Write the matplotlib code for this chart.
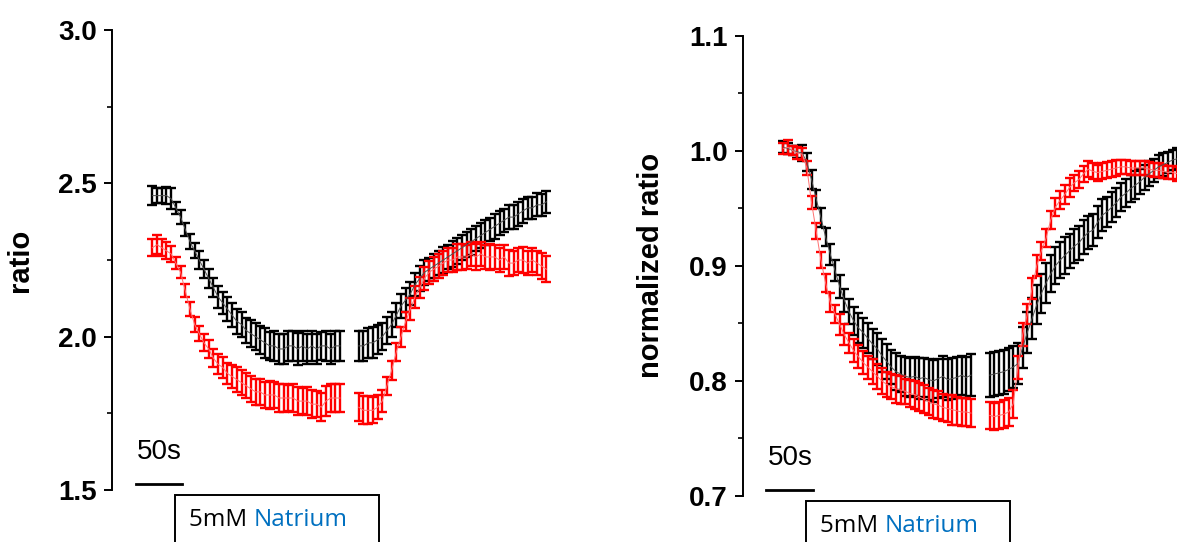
import numpy as np
import matplotlib
matplotlib.use("Agg")
import matplotlib.pyplot as plt
from matplotlib.patches import Rectangle
from matplotlib.ticker import MultipleLocator
import matplotlib.transforms as mtransforms

# time points (s), recording gap between the two segments
t_seg1 = np.arange(0, 205, 5)
t_seg2 = np.arange(220, 425, 5)

# ---- left panel: ratio ----
ratio_black_1 = [2.46, 2.46, 2.46, 2.46, 2.45, 2.42, 2.39, 2.35, 2.31, 2.28, 2.25, 2.22, 2.19, 2.16,
                 2.13, 2.11, 2.09, 2.07, 2.05, 2.04, 2.02, 2.01, 2.00, 1.99, 1.98, 1.97, 1.97, 1.96,
                 1.96, 1.97, 1.97, 1.96, 1.97, 1.96, 1.97, 1.96, 1.97, 1.97, 1.96, 1.97, 1.97]
ratio_black_1_err = [0.030, 0.025, 0.025, 0.028, 0.035, 0.020, 0.022, 0.022, 0.025, 0.025, 0.028, 0.030,
                     0.030, 0.032, 0.035, 0.035, 0.038, 0.040, 0.040, 0.042, 0.042, 0.045, 0.045, 0.045,
                     0.048, 0.045, 0.048, 0.050, 0.048, 0.050, 0.048, 0.052, 0.048, 0.050, 0.048, 0.050,
                     0.045, 0.048, 0.050, 0.048, 0.050]
ratio_black_2 = [1.97, 1.97, 1.98, 1.98, 1.99, 2.00, 2.02, 2.04, 2.07, 2.10, 2.12, 2.14, 2.17, 2.19,
                 2.21, 2.22, 2.23, 2.24, 2.25, 2.26, 2.27, 2.28, 2.29, 2.30, 2.31, 2.32, 2.33, 2.34,
                 2.35, 2.36, 2.37, 2.38, 2.39, 2.39, 2.40, 2.41, 2.42, 2.42, 2.43, 2.43, 2.44]
ratio_black_2_err = [0.050, 0.050, 0.048, 0.050, 0.048, 0.045, 0.045, 0.042, 0.040, 0.040, 0.040, 0.038,
                     0.038, 0.040, 0.040, 0.038, 0.040, 0.040, 0.042, 0.040, 0.042, 0.042, 0.040, 0.040,
                     0.042, 0.040, 0.040, 0.040, 0.038, 0.040, 0.040, 0.038, 0.038, 0.040, 0.038, 0.038,
                     0.036, 0.036, 0.038, 0.036, 0.036]
ratio_red_1 = [2.29, 2.30, 2.29, 2.28, 2.27, 2.24, 2.21, 2.15, 2.09, 2.04, 2.01, 1.98, 1.96, 1.93,
               1.91, 1.90, 1.88, 1.87, 1.86, 1.85, 1.84, 1.83, 1.82, 1.82, 1.81, 1.81, 1.81, 1.80,
               1.80, 1.80, 1.80, 1.79, 1.79, 1.79, 1.78, 1.78, 1.77, 1.79, 1.80, 1.80, 1.80]
ratio_red_1_err = [0.028, 0.030, 0.028, 0.028, 0.025, 0.020, 0.020, 0.022, 0.022, 0.025, 0.025, 0.028,
                   0.030, 0.030, 0.032, 0.035, 0.035, 0.038, 0.040, 0.040, 0.040, 0.042, 0.042, 0.042,
                   0.042, 0.045, 0.042, 0.045, 0.045, 0.042, 0.045, 0.045, 0.042, 0.045, 0.045, 0.042,
                   0.045, 0.050, 0.045, 0.045, 0.045]
ratio_red_2 = [1.77, 1.76, 1.76, 1.76, 1.77, 1.79, 1.84, 1.89, 1.95, 2.00, 2.05, 2.09, 2.13, 2.16,
               2.19, 2.21, 2.22, 2.23, 2.24, 2.25, 2.25, 2.26, 2.26, 2.26, 2.27, 2.26, 2.27, 2.26,
               2.26, 2.26, 2.25, 2.26, 2.24, 2.24, 2.25, 2.25, 2.24, 2.25, 2.24, 2.23, 2.22]
ratio_red_2_err = [0.045, 0.045, 0.045, 0.042, 0.040, 0.035, 0.030, 0.030, 0.030, 0.032, 0.032, 0.035,
                   0.035, 0.035, 0.038, 0.038, 0.040, 0.040, 0.040, 0.040, 0.040, 0.042, 0.042, 0.040,
                   0.040, 0.042, 0.040, 0.040, 0.042, 0.040, 0.040, 0.040, 0.042, 0.040, 0.040, 0.042,
                   0.040, 0.040, 0.040, 0.042, 0.042]

# ---- right panel: normalized ratio ----
norm_black_1 = [1.003, 1.002, 1.000, 0.999, 0.998, 0.990, 0.975, 0.958, 0.942, 0.925, 0.910, 0.896,
                0.882, 0.870, 0.860, 0.852, 0.846, 0.842, 0.837, 0.832, 0.828, 0.822, 0.817, 0.812,
                0.808, 0.806, 0.804, 0.803, 0.804, 0.802, 0.803, 0.801, 0.800, 0.802, 0.804, 0.801,
                0.802, 0.803, 0.805, 0.803, 0.805]
norm_black_1_err = [0.005, 0.005, 0.004, 0.005, 0.007, 0.008, 0.008, 0.008, 0.008, 0.008, 0.009, 0.009,
                    0.010, 0.010, 0.011, 0.012, 0.013, 0.013, 0.013, 0.013, 0.014, 0.014, 0.015, 0.015,
                    0.016, 0.016, 0.017, 0.017, 0.017, 0.018, 0.017, 0.018, 0.018, 0.017, 0.018, 0.018,
                    0.018, 0.018, 0.017, 0.018, 0.018]
norm_black_2 = [0.805, 0.806, 0.807, 0.808, 0.810, 0.812, 0.815, 0.829, 0.842, 0.854, 0.866, 0.876,
                0.885, 0.893, 0.900, 0.905, 0.909, 0.913, 0.917, 0.920, 0.925, 0.929, 0.931, 0.938,
                0.944, 0.947, 0.951, 0.955, 0.960, 0.963, 0.967, 0.970, 0.973, 0.977, 0.980, 0.983,
                0.986, 0.988, 0.990, 0.992, 0.993]
norm_black_2_err = [0.019, 0.019, 0.019, 0.019, 0.019, 0.018, 0.018, 0.018, 0.018, 0.018, 0.017, 0.017,
                    0.017, 0.016, 0.016, 0.016, 0.016, 0.015, 0.015, 0.015, 0.015, 0.014, 0.014, 0.014,
                    0.014, 0.013, 0.013, 0.013, 0.012, 0.012, 0.012, 0.012, 0.011, 0.011, 0.011, 0.010,
                    0.010, 0.010, 0.009, 0.009, 0.009]
norm_red_1 = [1.002, 1.003, 1.000, 0.998, 0.997, 0.985, 0.955, 0.930, 0.905, 0.885, 0.868, 0.858,
              0.849, 0.840, 0.833, 0.826, 0.821, 0.816, 0.812, 0.808, 0.804, 0.800, 0.797, 0.795,
              0.793, 0.792, 0.791, 0.789, 0.788, 0.786, 0.784, 0.782, 0.780, 0.779, 0.777, 0.776,
              0.775, 0.774, 0.773, 0.773, 0.772]
norm_red_1_err = [0.005, 0.006, 0.004, 0.005, 0.005, 0.006, 0.006, 0.007, 0.007, 0.008, 0.008, 0.008,
                  0.009, 0.009, 0.009, 0.010, 0.010, 0.010, 0.010, 0.011, 0.011, 0.011, 0.011, 0.011,
                  0.012, 0.012, 0.011, 0.012, 0.012, 0.012, 0.012, 0.012, 0.012, 0.012, 0.012, 0.012,
                  0.013, 0.012, 0.012, 0.012, 0.012]
norm_red_2 = [0.770, 0.769, 0.770, 0.771, 0.773, 0.780, 0.812, 0.840, 0.858, 0.880, 0.900, 0.913,
              0.924, 0.940, 0.951, 0.957, 0.962, 0.968, 0.972, 0.975, 0.980, 0.984, 0.982, 0.981,
              0.982, 0.983, 0.984, 0.985, 0.986, 0.986, 0.985, 0.985, 0.985, 0.985, 0.984, 0.983,
              0.983, 0.982, 0.981, 0.981, 0.980]
norm_red_2_err = [0.012, 0.012, 0.012, 0.012, 0.012, 0.012, 0.010, 0.010, 0.009, 0.009, 0.009, 0.008,
                  0.008, 0.008, 0.008, 0.008, 0.008, 0.008, 0.007, 0.007, 0.007, 0.007, 0.007, 0.007,
                  0.007, 0.007, 0.007, 0.007, 0.006, 0.006, 0.006, 0.006, 0.006, 0.006, 0.006, 0.006,
                  0.006, 0.006, 0.006, 0.006, 0.006]

scale_bar = (-18, 32)        # 50 s
na_window = (24, 242)        # 5 mM Natrium box

plt.rcParams['font.family'] = ['Liberation Sans', 'DejaVu Sans']

fig = plt.figure(figsize=(11.77, 5.42), dpi=100)
ax1 = fig.add_axes([0.0952, 0.0959, 0.385, 0.8487])
ax2 = fig.add_axes([0.6313, 0.0849, 0.385, 0.8494])


def draw_series(ax, t, y, e, bar_color, line_color):
    ax.errorbar(t, y, yerr=e, color=line_color, lw=0.7, ecolor=bar_color,
                elinewidth=1.7, capsize=3.7, capthick=1.7, zorder=3)


def style_panel(ax, ylim, major, minor, ylabel):
    ax.set_xlim(-43, 440)
    ax.set_ylim(*ylim)
    for s in ['top', 'right', 'bottom']:
        ax.spines[s].set_visible(False)
    ax.spines['left'].set_linewidth(1.4)
    ax.set_xticks([])
    ax.yaxis.set_major_locator(MultipleLocator(major))
    ax.yaxis.set_minor_locator(MultipleLocator(minor))
    ax.tick_params(axis='y', which='major', length=6, width=1.4, pad=5,
                   labelsize=20)
    ax.tick_params(axis='y', which='minor', length=3.5, width=1.2)
    for lab in ax.get_yticklabels():
        lab.set_fontweight('bold')
    ax.set_ylabel(ylabel, fontsize=21, fontweight='bold')
    ax.yaxis.set_label_coords(-0.172, 0.5)

    # 50 s scale bar
    trans = mtransforms.blended_transform_factory(ax.transData, ax.transAxes)
    ax.plot(scale_bar, [0.014, 0.014], color='black', lw=2, transform=trans,
            clip_on=False)
    ax.text(scale_bar[0] + 1, 0.082, '50s', transform=trans, fontsize=20,
            ha='left', va='center')

    # Natrium application box (runs off the bottom of the figure)
    box = Rectangle((na_window[0], -0.3), na_window[1] - na_window[0], 0.289,
                    transform=trans, fill=False, edgecolor='black', lw=1.4,
                    clip_on=False)
    ax.add_patch(box)
    t1 = ax.text(na_window[0] + 15, -0.065, '5mM ', transform=trans,
                 fontsize=17.5, family='Open Sans', ha='left', va='center')
    ax.annotate('Natrium', xy=(1, 0), xycoords=t1, ha='left', va='bottom',
                fontsize=17.5, family='Open Sans', color='#0070C0')


for t, y, e in [(t_seg1, ratio_black_1, ratio_black_1_err),
                (t_seg2, ratio_black_2, ratio_black_2_err)]:
    draw_series(ax1, t, y, e, 'black', '#505050')
for t, y, e in [(t_seg1, ratio_red_1, ratio_red_1_err),
                (t_seg2, ratio_red_2, ratio_red_2_err)]:
    draw_series(ax1, t, y, e, '#ff0000', '#ff7070')

for t, y, e in [(t_seg1, norm_black_1, norm_black_1_err),
                (t_seg2, norm_black_2, norm_black_2_err)]:
    draw_series(ax2, t, y, e, 'black', '#505050')
for t, y, e in [(t_seg1, norm_red_1, norm_red_1_err),
                (t_seg2, norm_red_2, norm_red_2_err)]:
    draw_series(ax2, t, y, e, '#ff0000', '#ff7070')

style_panel(ax1, (1.5, 3.0), 0.5, 0.25, 'ratio')
style_panel(ax2, (0.7, 1.1), 0.1, 0.05, 'normalized ratio')

fig.savefig('out.png', dpi=100)
